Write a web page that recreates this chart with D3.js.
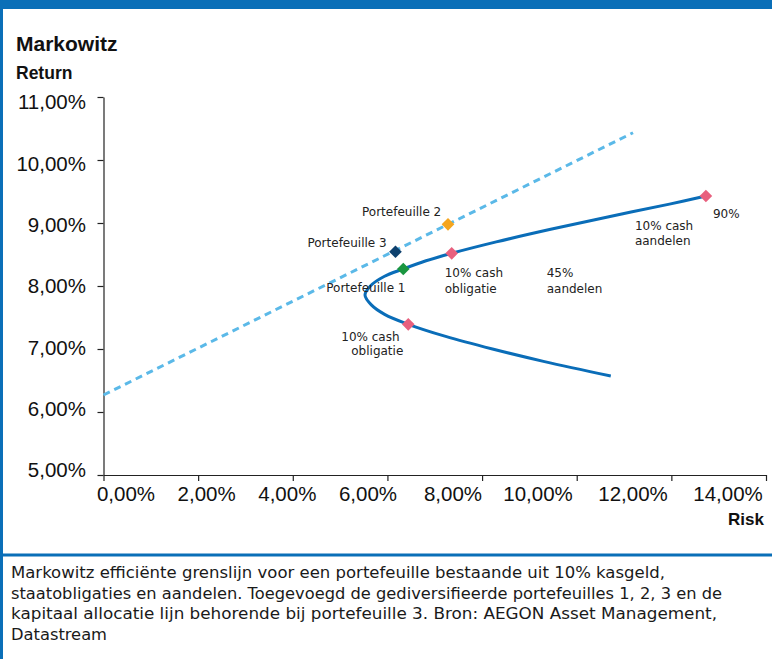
<!DOCTYPE html>
<html>
<head>
<meta charset="utf-8">
<script src="https://cdn.jsdelivr.net/npm/d3@7"></script>
<style>
  html, body { margin: 0; padding: 0; background: #fff; }
  svg { display: block; }
</style>
</head>
<body>
<script>
// ---------- data ----------
const xTicks = [0, 2, 4, 6, 8, 10, 12, 14];
const xTickLabels = ["0,00%", "2,00%", "4,00%", "6,00%", "8,00%", "10,00%", "12,00%", "14,00%"];
const yTicks = [5, 6, 7, 8, 9, 10, 11];
const yTickLabels = ["5,00%", "6,00%", "7,00%", "8,00%", "9,00%", "10,00%", "11,00%"];

// efficient frontier (risk %, return %)
const frontierRisk   = [10.72, 9.32, 8.22, 7.23, 6.44, 5.94, 5.66, 5.526, 5.64, 5.93, 6.335, 6.816, 7.358, 8.30, 9.45, 10.68, 11.96, 12.73];
const frontierReturn = [6.571, 6.80, 7.00, 7.20, 7.392, 7.55, 7.70, 7.857, 8.00, 8.15, 8.270, 8.40, 8.519, 8.70, 8.90, 9.10, 9.30, 9.429];

// capital allocation line (risk %, return %)
const calRisk   = [0, 11.19];
const calReturn = [6.27, 10.433];

// portfolio markers
const markerNames  = ["Portefeuille 2", "Portefeuille 3", "Portefeuille 1", "mid", "low", "high"];
const markerRisk   = [7.28, 6.17, 6.335, 7.358, 6.44, 12.73];
const markerReturn = [8.979, 8.544, 8.270, 8.519, 7.392, 9.429];

const captionLines = [
  "Markowitz efficiënte grenslijn voor een portefeuille bestaande uit 10% kasgeld,",
  "staatobligaties en aandelen. Toegevoegd de gediversifieerde portefeuilles 1, 2, 3 en de",
  "kapitaal allocatie lijn behorende bij portefeuille 3. Bron: AEGON Asset Management,",
  "Datastream"
];

// ---------- styles ----------
const markerColors = ["#F5A51E", "#0E416E", "#1A9640", "#E8607E", "#E8607E", "#E8607E"];
// annotation labels: attached to a marker index with pixel offsets
const annotations = [
  { m: 0, lines: ["Portefeuille 2"], dx: -86, dy: -8 },
  { m: 1, lines: ["Portefeuille 3"], dx: -88, dy: -5 },
  { m: 2, lines: ["Portefeuille 1"], dx: -77, dy: 23 },
  { m: 3, lines: ["10% cash", "obligatie"], dx: -7, dy: 24 },
  { m: 3, lines: ["45%", "aandelen"], dx: 95, dy: 24 },
  { m: 4, lines: ["10% cash"], dx: -67, dy: 17 },
  { m: 4, lines: ["obligatie"], dx: -57, dy: 31 },
  { m: 5, lines: ["10% cash", "aandelen"], dx: -71, dy: 34 },
  { m: 5, lines: ["90%"], dx: 7, dy: 22 }
];

const W = 772, H = 659;
const blue = "#0A6FB8";
const svg = d3.select("body").append("svg").attr("width", W).attr("height", H);
svg.append("rect").attr("width", W).attr("height", H).attr("fill", "#fff");

// frame
svg.append("rect").attr("x", 0).attr("y", 0).attr("width", W).attr("height", 9).attr("fill", blue);
svg.append("rect").attr("x", 0).attr("y", 0).attr("width", 3).attr("height", H).attr("fill", blue);
svg.append("rect").attr("x", 0).attr("y", 553.5).attr("width", W).attr("height", 3).attr("fill", blue);

// scales
const x = d3.scaleLinear().domain([0, 14]).range([103.5, 766]);
const y = d3.scaleLinear().domain([5, 11]).range([475, 97]);
// label placement scales (labels in the reference are not centred on ticks)
const xLab = d3.scaleLinear().domain([0, 6, 10, 14]).range([126, 368, 538, 728]);
const yLab = d3.scaleLinear().domain([5, 11]).range([470, 102]);

const axisFont = "'Liberation Sans', Arial, Helvetica, sans-serif";
const textFont = "'DejaVu Sans', Verdana, sans-serif";

// titles
svg.append("text").attr("x", 16).attr("y", 51).text("Markowitz")
  .attr("font-family", axisFont).attr("font-weight", "bold").attr("font-size", 21).attr("fill", "#111");
svg.append("text").attr("x", 16).attr("y", 79).text("Return")
  .attr("font-family", axisFont).attr("font-weight", "bold").attr("font-size", 17.5).attr("fill", "#111");
svg.append("text").attr("x", 764).attr("y", 525).attr("text-anchor", "end").text("Risk")
  .attr("font-family", axisFont).attr("font-weight", "bold").attr("font-size", 17).attr("fill", "#111");

// axes
const gy = svg.append("g").attr("transform", `translate(${x(0)},0)`)
  .call(d3.axisLeft(y).tickValues(yTicks).tickSize(6).tickSizeOuter(0).tickFormat(""));
const gx = svg.append("g").attr("transform", `translate(0,${y(5)})`)
  .call(d3.axisBottom(x).tickValues(xTicks).tickSize(6).tickSizeOuter(0).tickFormat(""));
[gy, gx].forEach(g => {
  g.selectAll("path, line").attr("stroke", "#222").attr("stroke-width", 1.2);
});

// tick labels
svg.append("g").selectAll("text").data(yTicks).join("text")
  .attr("x", 86).attr("y", d => yLab(d) + 7.3)
  .attr("text-anchor", "end")
  .attr("font-family", axisFont).attr("font-size", 20.5).attr("fill", "#111")
  .text((d, i) => yTickLabels[i]);
svg.append("g").selectAll("text").data(xTicks).join("text")
  .attr("x", d => xLab(d)).attr("y", 501)
  .attr("text-anchor", "middle")
  .attr("font-family", axisFont).attr("font-size", 20.5).attr("fill", "#111")
  .text((d, i) => xTickLabels[i]);

// capital allocation line
const calData = calRisk.map((r, i) => [r, calReturn[i]]);
svg.append("path").datum(calData)
  .attr("d", d3.line().x(d => x(d[0])).y(d => y(d[1])))
  .attr("fill", "none").attr("stroke", "#5BB9E8").attr("stroke-width", 3)
  .attr("stroke-dasharray", "7,5");

// frontier
const frontier = frontierRisk.map((r, i) => [r, frontierReturn[i]]);
svg.append("path").datum(frontier)
  .attr("d", d3.line().x(d => x(d[0])).y(d => y(d[1])).curve(d3.curveCatmullRom.alpha(0.5)))
  .attr("fill", "none").attr("stroke", "#0A6DB8").attr("stroke-width", 3);

// markers
const markers = markerNames.map((n, i) => ({ name: n, r: markerRisk[i], v: markerReturn[i], c: markerColors[i] }));
svg.append("g").selectAll("path").data(markers).join("path")
  .attr("d", d3.symbol(d3.symbolSquare, 80))
  .attr("transform", d => `translate(${x(d.r)},${y(d.v)}) rotate(45)`)
  .attr("fill", d => d.c);

// annotations
const ag = svg.append("g").attr("font-family", textFont).attr("font-size", 12).attr("fill", "#222");
annotations.forEach(a => {
  const m = markers[a.m];
  const t = ag.append("text")
    .attr("x", x(m.r) + a.dx).attr("y", y(m.v) + a.dy);
  a.lines.forEach((ln, k) => {
    t.append("tspan").attr("x", x(m.r) + a.dx).attr("dy", k === 0 ? 0 : 15.5).text(ln);
  });
});

// caption
const capWidths = [654, 711, 706, 96];
svg.append("g").selectAll("text").data(captionLines).join("text")
  .attr("x", 11).attr("y", (d, i) => 578 + i * 20.7)
  .attr("font-family", textFont).attr("font-size", 16.3).attr("fill", "#1a1a1a")
  .attr("textLength", (d, i) => capWidths[i]).attr("lengthAdjust", "spacingAndGlyphs")
  .text(d => d);
</script>
</body>
</html>
